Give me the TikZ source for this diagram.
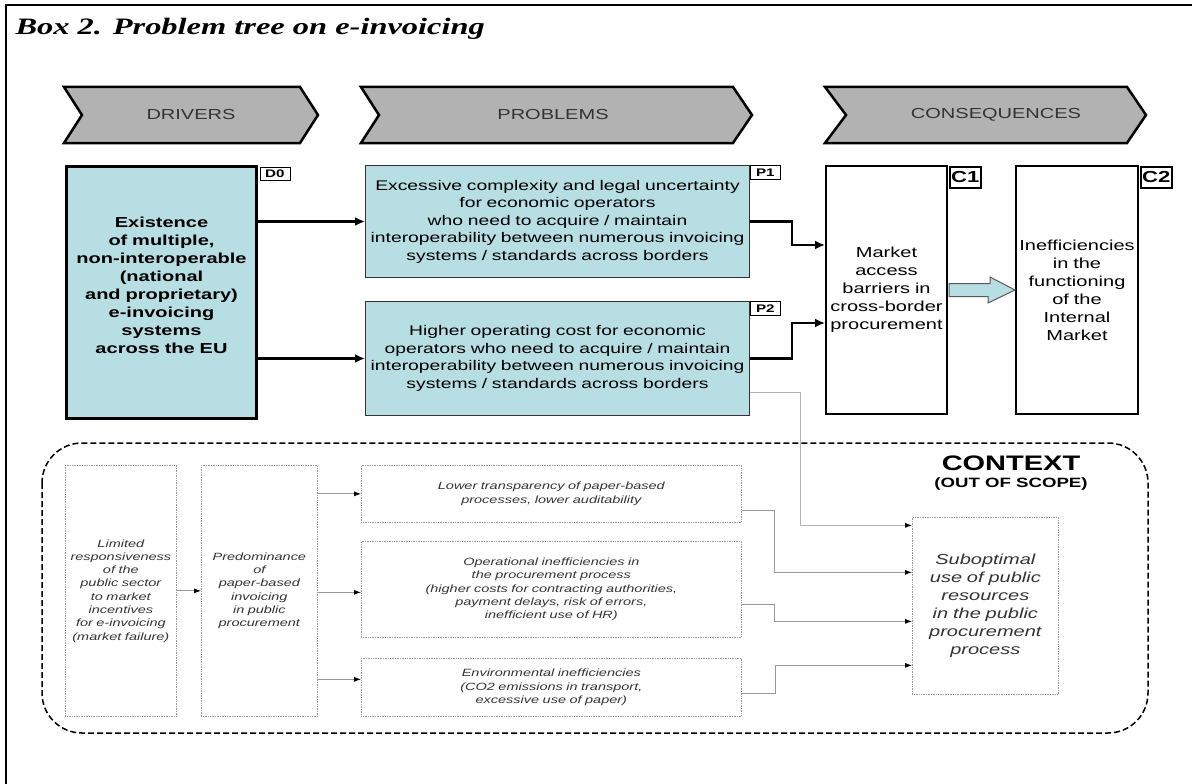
\documentclass[tikz,border=0pt]{standalone}
\usepackage{fontspec}
\setmainfont{Liberation Sans}[FakeStretch=1.38]
\newfontfamily\titlefont{Liberation Serif}[FakeStretch=1.38]
\usetikzlibrary{arrows.meta,positioning,calc}
\definecolor{tealbox}{HTML}{B7DEE3}
\definecolor{chevgray}{HTML}{B2B2B2}
\definecolor{chevtext}{HTML}{333333}
\definecolor{ctxtext}{HTML}{333333}

\begin{document}
\begin{tikzpicture}[x=1pt,y=-1pt,>=Latex,
 box/.style={draw,anchor=north west,align=center,inner sep=1pt},
 drvbox/.style={box,line width=3pt,fill=tealbox,font=\bfseries\fontsize{14.5}{18}\selectfont},
 prbbox/.style={box,line width=1pt,draw=black!80,fill=tealbox,font=\fontsize{14}{17.5}\selectfont},
 csqbox/.style={box,line width=2pt,fill=white,inner sep=0.5pt,font=\fontsize{14.5}{18}\selectfont},
 tag/.style={draw,line width=0.8pt,fill=white,anchor=north west,inner sep=0pt,font=\bfseries\fontsize{11}{11}\selectfont},
 bigtag/.style={tag,line width=1.5pt,font=\bfseries\fontsize{16}{16}\selectfont},
 ctxbox/.style={box,draw=gray!80,densely dotted,line width=0.7pt,text=ctxtext,font=\itshape\fontsize{10.5}{13.3}\selectfont},
 chevron/.style={draw,line width=2.5pt,fill=chevgray,line join=miter},
 chevlabel/.style={text=chevtext,font=\fontsize{14.5}{14.5}\selectfont},
 arrow/.style={-{Latex[length=10pt,width=9pt]},line width=2.5pt},
 fatarrow/.style={fill=tealbox,draw=gray!70!black,line width=1pt},
 ctxframe/.style={draw,line width=1.5pt,dash pattern=on 6pt off 3pt,rounded corners=40pt},
 ctxarrow/.style={-{Latex[length=7pt,width=5pt,color=black]},draw=gray!80,line width=0.8pt}]

% frame and title
\useasboundingbox (0,0) rectangle (1192,784);
\draw[line width=1.5pt] (6,784) -- (6,5) -- (1192,5);
\node[anchor=base west,font=\titlefont\bfseries\itshape\fontsize{23.5}{23.5}\selectfont] (title) at (12,35) {Box 2. Problem tree on e-invoicing};

% chevrons
\draw[chevron] (64,87) -- (300,87) -- (318,115) -- (300,143) -- (64,143) -- (82,115) -- cycle;
\node[chevlabel] (drivers) at (191,115) {DRIVERS};
\draw[chevron] (361,87) -- (733,87) -- (752,115) -- (733,143) -- (361,143) -- (379,115) -- cycle;
\node[chevlabel] (problems) at (553,115) {PROBLEMS};
\draw[chevron] (825,87) -- (1127,87) -- (1146,115) -- (1127,143) -- (825,143) -- (846,115) -- cycle;
\node[chevlabel] (consequences) at (996,115) {CONSEQUENCES};

% drivers, problems, consequences
\node[drvbox,minimum width=190pt,minimum height=252pt,text width=186pt] (d0) at (65,165) {Existence\\of multiple,\\non-interoperable\\(national\\and proprietary)\\e-invoicing\\systems\\across the EU\\[-4pt]\mbox{}};
\node[tag,minimum width=30pt,minimum height=13pt] (d0tag) at ([xshift=1.5pt,yshift=-2pt]d0.north east) {D0};
\node[prbbox,minimum width=384pt,minimum height=112pt,text width=380pt] (p1) at (365,165) {Excessive complexity and legal uncertainty\\for economic operators\\who need to acquire / maintain\\interoperability between numerous invoicing\\systems / standards across borders};
\node[tag,minimum width=30pt,minimum height=14pt] (p1tag) at (p1.north east) {P1};
\node[prbbox,minimum width=384pt,minimum height=114pt,text width=380pt] (p2) at (365,301) {Higher operating cost for economic\\operators who need to acquire / maintain\\interoperability between numerous invoicing\\systems / standards across borders};
\node[tag,minimum width=30pt,minimum height=14pt] (p2tag) at (p2.north east) {P2};
\node[csqbox,minimum width=121pt,minimum height=248pt,text width=120pt] (c1) at (825,165) {Market\\access\\barriers in\\cross-border\\procurement};
\node[bigtag,minimum width=31pt,minimum height=21pt] (c1tag) at ([xshift=1pt,yshift=-1pt]c1.north east) {C1};
\node[csqbox,minimum width=122pt,minimum height=248pt,text width=121pt] (c2) at (1015,165) {Inefficiencies\\in the\\functioning\\of the\\Internal\\Market};
\node[bigtag,minimum width=31pt,minimum height=21pt] (c2tag) at ([xshift=1pt,yshift=-1pt]c2.north east) {C2};

\draw[arrow] (d0.east |- p1.west) -- (p1.west);
\draw[arrow] (d0.east |- p2.west) -- (p2.west);
\draw[arrow] (p1.east) -- ++(42,0) |- ([yshift=45pt]c1.west);
\draw[arrow] (p2.east) -- ++(42,0) |- ([yshift=-33pt]c1.west);
\draw[fatarrow] ([xshift=1pt,yshift=6.5pt]c1.east) -- ++(41,0) -- ++(0,-6.5) -- (c2.west) -- ++(-27,13) -- ++(0,-6.5) -- ([xshift=1pt,yshift=-6.5pt]c1.east) -- cycle;

% context
\draw[ctxframe] (42,443) rectangle (1148,733);
\node[font=\bfseries\fontsize{21}{21}\selectfont] (ctxtitle) at (1011,463) {CONTEXT};
\node[font=\bfseries\fontsize{13.5}{13.5}\selectfont,below=0pt of ctxtitle] (ctxsub) {(OUT OF SCOPE)};
\node[ctxbox,minimum width=111pt,minimum height=251pt,text width=109pt] (limited) at (65,465) {Limited\\responsiveness\\of the\\public sector\\to market\\incentives\\for e-invoicing\\(market failure)};
\node[ctxbox,minimum width=116pt,minimum height=251pt,text width=114pt] (predom) at (201,465) {Predominance\\of\\paper-based\\invoicing\\in public\\procurement};
\node[ctxbox,minimum width=380pt,minimum height=57pt,text width=376pt] (lower) at (361,465) {Lower transparency of paper-based\\processes, lower auditability};
\node[ctxbox,minimum width=380pt,minimum height=96pt,text width=376pt] (operat) at (361,541) {Operational inefficiencies in\\the procurement process\\(higher costs for contracting authorities,\\payment delays, risk of errors,\\inefficient use of HR)};
\node[ctxbox,minimum width=380pt,minimum height=58pt,text width=376pt] (environ) at (361,658) {Environmental inefficiencies\\(CO2 emissions in transport,\\excessive use of paper)};
\node[ctxbox,font=\itshape\fontsize{14.5}{18}\selectfont,minimum width=146pt,minimum height=177pt,text width=142pt] (subopt) at (912,517) {Suboptimal\\use of public\\resources\\in the public\\procurement\\process};

\draw[ctxarrow] (limited.east) -- (predom.west);
\draw[ctxarrow] (predom.east |- lower.west) -- (lower.west);
\draw[ctxarrow] (predom.east |- operat.west) ++(0,3) -- ([yshift=-3pt]operat.west);
\draw[ctxarrow] (predom.east |- environ.west) ++(0,-8) -- ([yshift=8pt]environ.west);
\draw[ctxarrow] ([yshift=-16.5pt]lower.east) -- ++(33,0) |- ([yshift=33.5pt]subopt.west);
\draw[ctxarrow] ([yshift=-15pt]operat.east) -- ++(33,0) |- ([yshift=-15.5pt]subopt.west);
\draw[ctxarrow] ([yshift=-6pt]environ.east) -- ++(34,0) |- ([yshift=-59.5pt]subopt.west);
\draw[ctxarrow,draw=gray!60] ([yshift=-34pt]p2.east) -- ++(50,0) |- ([yshift=80.5pt]subopt.west);
\end{tikzpicture}
\end{document}
